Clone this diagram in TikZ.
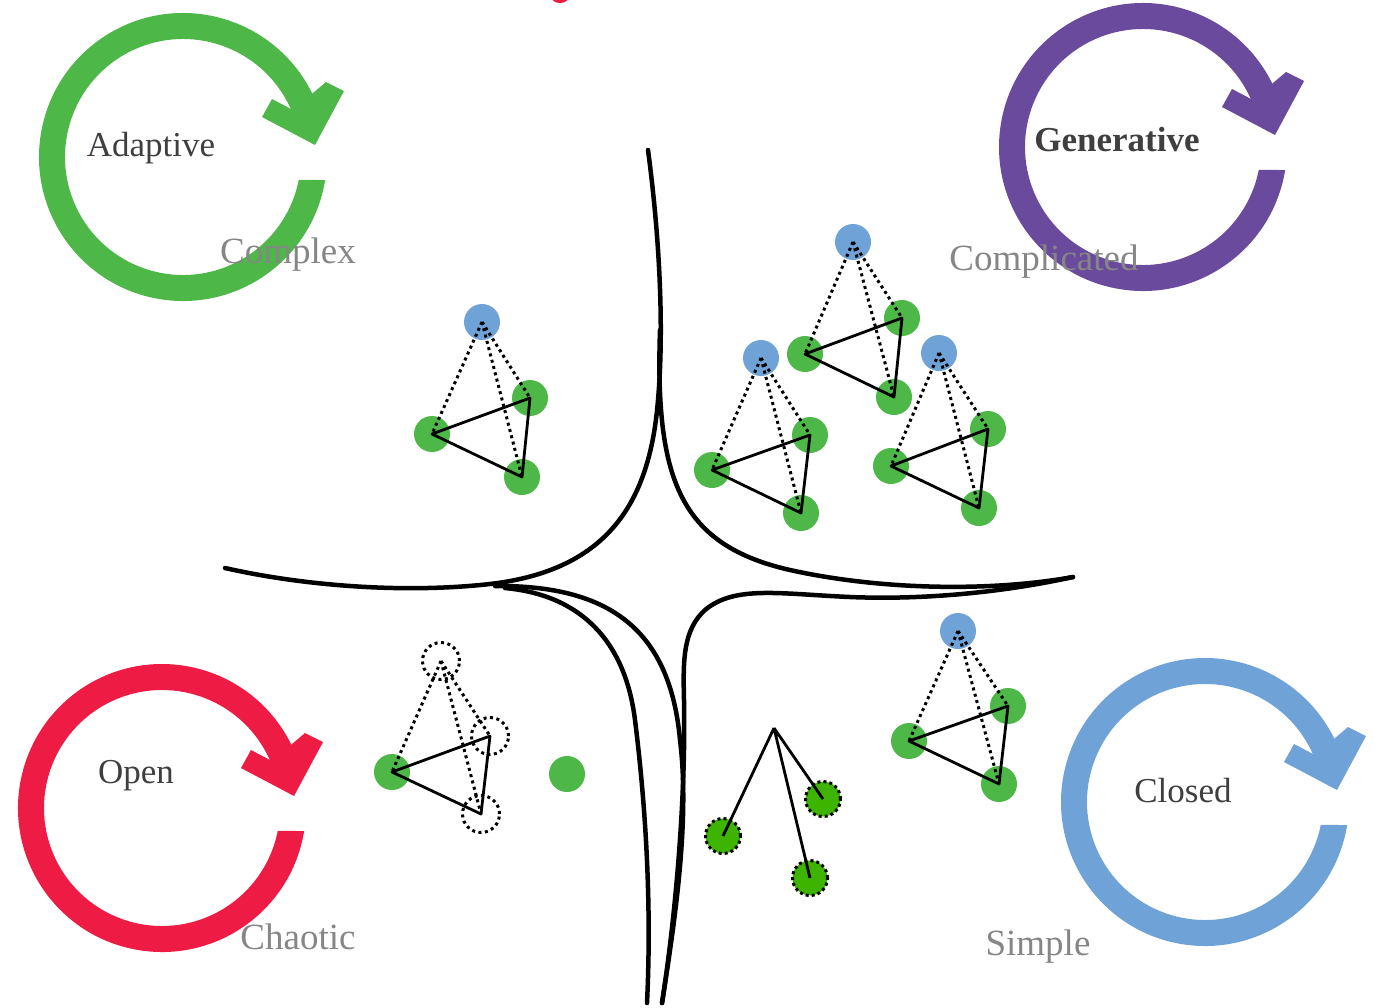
\documentclass[tikz,border=0pt]{standalone}
\usepackage{fontspec}
\setmainfont{Liberation Serif}
\definecolor{greenc}{HTML}{4DB748}
\definecolor{purplec}{HTML}{6A4A9C}
\definecolor{redc}{HTML}{EE1B45}
\definecolor{bluec}{HTML}{6FA3D8}
\definecolor{dgreen}{HTML}{3DB400}
\definecolor{darkt}{HTML}{3F3F3F}
\definecolor{grayt}{HTML}{868686}
\newcommand\ringarrow[2]{%
  \begin{scope}[shift={(#1)}]
    \fill[#2] (9.2:144) arc[start angle=9.2, end angle=337, radius=144]
      -- (337:118) arc[start angle=337, end angle=11.2, radius=118] -- cycle;
    \fill[#2] (79,-40) -- (89,-58) -- (110,-47) -- (143,-75) -- (161,-66) -- (132,-12) -- cycle;
  \end{scope}}
\newcommand\pyr[9]{%
  \node[bluedot] (#1b) at (#2,#3) {};
  \node[greendot] (#1l) at (#4,#5) {};
  \node[greendot] (#1t) at (#6,#7) {};
  \node[greendot] (#1r) at (#8,#9) {};
  \draw[tri] (#1l.center) -- (#1t.center) -- (#1r.center) -- cycle;
  \draw[dots] (#1b.center) -- (#1l.center) (#1b.center) -- (#1t.center) (#1b.center) -- (#1r.center);}
\begin{document}
\begin{tikzpicture}[x=1pt,y=-1pt,
  bluedot/.style={circle, fill=bluec, minimum size=36pt, inner sep=0pt},
  greendot/.style={circle, fill=greenc, minimum size=36pt, inner sep=0pt},
  ghost/.style={circle, draw=black, line width=3pt, dash pattern=on 3pt off 3.5pt, minimum size=37pt, inner sep=0pt},
  darkdot/.style={circle, fill=dgreen, draw=black, line width=3pt, dash pattern=on 3pt off 3pt, minimum size=35pt, inner sep=0pt},
  tri/.style={line width=2.8pt, black, line join=round},
  dots/.style={line width=3pt, black, dash pattern=on 3pt off 3.5pt},
  cusp/.style={line width=4.5pt, black, line cap=round},
  lbl/.style={font=\fontsize{35}{40}\selectfont, text=darkt, anchor=base, inner sep=0pt},
  glbl/.style={font=\fontsize{37}{40}\selectfont, text=grayt, anchor=base, inner sep=0pt}]
\useasboundingbox (0,0) rectangle (1375,1007);

% red fragment at the top
\fill[redc] (560,-2) ellipse [x radius=8, y radius=5];

% circular arrows
\ringarrow{183,157}{greenc}
\ringarrow{1143,147}{purplec}
\ringarrow{162,808}{redc}
\ringarrow{1205,802}{bluec}

% central cusp curves
\draw[cusp] (648,150) .. controls (660,240) and (664,330) .. (658,400)
  .. controls (650,500) and (610,570) .. (490,584)
  .. controls (400,594) and (300,585) .. (225,568);
\draw[cusp] (660,330) .. controls (655,480) and (680,545) .. (790,570)
  .. controls (880,590) and (990,592) .. (1073,577);
\draw[cusp] (1073,577) .. controls (1000,593) and (920,600) .. (850,597)
  .. controls (780,594) and (735,585) .. (705,610)
  .. controls (683,630) and (683,660) .. (684,700)
  .. controls (686,800) and (675,920) .. (662,1003);
\draw[cusp] (495,586) .. controls (610,585) and (670,630) .. (680,740)
  .. controls (690,820) and (675,920) .. (662,1003);
\draw[cusp] (505,588) .. controls (580,595) and (625,640) .. (635,720)
  .. controls (645,800) and (652,900) .. (647,1003);

% pyramids
\pyr{ga}{482}{322}{432}{434}{530}{398}{522}{477}
\pyr{gb}{853}{242}{805}{354}{902}{318}{894}{397}
\pyr{gc}{761}{358}{712}{470}{810}{435}{801}{513}
\pyr{gd}{939}{353}{891}{466}{988}{429}{979}{508}
\pyr{ge}{958}{631}{909}{741}{1008}{706}{999}{784}

% chaotic group
\node[greendot] (hl) at (392,772) {};
\node[greendot] (hx) at (567,774) {};
\node[ghost] (hb) at (441,661) {};
\node[ghost] (ht) at (490,736) {};
\node[ghost] (hr) at (481,814) {};
\draw[tri] (hl.center) -- (ht.center) -- (hr.center) -- cycle;
\draw[dots] (hb.center) -- (hl.center) (hb.center) -- (ht.center) (hb.center) -- (hr.center);

% simple fan group
\coordinate (fa) at (774,728);
\node[darkdot] (fl) at (723,836) {};
\node[darkdot] (ft) at (823,799) {};
\node[darkdot] (fr) at (810,878) {};
\draw[tri] (fa) -- (fl.center) (fa) -- (ft.center) (fa) -- (fr.center);

% labels
\node[lbl] (tad) at (151,156) {Adaptive};
\node[lbl, font=\fontsize{35}{40}\selectfont\bfseries] (tge) at (1117,151) {Generative};
\node[lbl] (top) at (136,783) {Open};
\node[lbl] (tcl) at (1183,802) {Closed};
\node[glbl] (tcx) at (288,263) {Complex};
\node[glbl] (tcd) at (1044,270) {Complicated};
\node[glbl] (tch) at (298,949) {Chaotic};
\node[glbl] (tsi) at (1038,955) {Simple};
\end{tikzpicture}
\end{document}
